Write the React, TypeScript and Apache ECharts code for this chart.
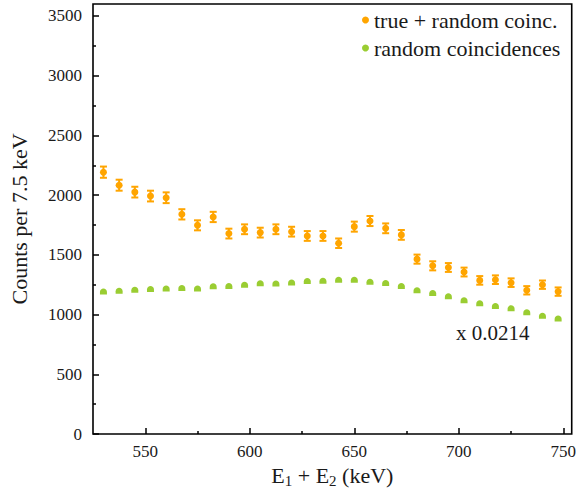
import React, { useEffect, useRef } from 'react';
import * as echarts from 'echarts';

const energies = [
  530, 537.5, 545, 552.5, 560, 567.5, 575, 582.5, 590, 597.5,
  605, 612.5, 620, 627.5, 635, 642.5, 650, 657.5, 665, 672.5,
  680, 687.5, 695, 702.5, 710, 717.5, 725, 732.5, 740, 747.5,
];
const trueRandom = [
  2192, 2083, 2025, 1992, 1978, 1839, 1747, 1817, 1678, 1714,
  1686, 1714, 1694, 1658, 1658, 1597, 1736, 1783, 1722, 1667,
  1464, 1408, 1394, 1356, 1286, 1292, 1267, 1203, 1250, 1192,
];
const trueRandomErr = [
  47, 46, 45, 45, 45, 43, 42, 43, 41, 41,
  41, 41, 41, 41, 41, 40, 42, 42, 41, 41,
  38, 38, 37, 37, 36, 36, 36, 35, 35, 35,
];
const randomCoinc = [
  1194, 1200, 1208, 1214, 1219, 1222, 1219, 1236, 1239, 1250,
  1262, 1261, 1269, 1281, 1283, 1292, 1292, 1275, 1264, 1239,
  1204, 1181, 1153, 1119, 1094, 1072, 1053, 1019, 989, 967,
];
const xTicks = [550, 600, 650, 700, 750];
const xMinorTicks = [575, 625, 675, 725];
const yTicks = [0, 500, 1000, 1500, 2000, 2500, 3000, 3500];
const yMinorTicks = [250, 750, 1250, 1750, 2250, 2750, 3250];

const seriesNames = ['true + random coinc.', 'random coincidences'];
const scaleNote = 'x 0.0214';

const FONT = 'Liberation Serif';
const TEXT = '#1a1a1a';
const ORANGE = '#FFA500';
const GREEN = '#9ACD32';

export default function App() {
  const ref = useRef<HTMLDivElement>(null);
  useEffect(() => {
    const chart = echarts.init(ref.current!, null, { renderer: 'svg' });
    const tickStyle = { color: '#000', width: 1.5 };
    const fmt = (v: number) => String(v);
    const option: any = {
      animation: false,
      backgroundColor: '#fff',
      textStyle: { fontFamily: FONT },
      grid: {
        left: 87, top: 4, width: 487, height: 430,
        show: true, borderColor: '#000', borderWidth: 1.6, backgroundColor: 'transparent',
      },
      legend: {
        orient: 'vertical', left: 362, top: 9, padding: 0,
        itemWidth: 7, itemHeight: 7, itemGap: 6,
        data: seriesNames.map((n) => ({ name: n, icon: 'circle' })),
        textStyle: { fontFamily: FONT, fontSize: 22, color: TEXT, lineHeight: 22 },
      },
      xAxis: [
        {
          type: 'value', min: 525, max: 754, position: 'bottom',
          axisLine: { show: false },
          splitLine: { show: false },
          axisTick: { inside: true, length: 6, lineStyle: tickStyle, customValues: xTicks },
          axisLabel: { customValues: xTicks, formatter: fmt, fontFamily: FONT, fontSize: 17, color: TEXT, margin: 9 },
          name: '{a|E}{b|1}{a| + E}{b|2}{a| (keV)}',
          nameLocation: 'middle', nameGap: 25,
          nameTextStyle: {
            fontFamily: FONT, fontSize: 22, color: TEXT,
            rich: {
              a: { fontFamily: FONT, fontSize: 22, color: TEXT, lineHeight: 26 },
              b: { fontFamily: FONT, fontSize: 15, color: TEXT, lineHeight: 15, verticalAlign: 'bottom' },
            },
          },
        },
        {
          type: 'value', min: 525, max: 754, position: 'bottom',
          axisLine: { show: false }, splitLine: { show: false },
          axisTick: { inside: true, length: 3, lineStyle: tickStyle, customValues: xMinorTicks },
          axisLabel: { show: false },
        },
      ],
      yAxis: [
        {
          type: 'value', min: 0, max: 3600, position: 'left',
          axisLine: { show: false },
          splitLine: { show: false },
          axisTick: { inside: true, length: 6, lineStyle: tickStyle, customValues: yTicks },
          axisLabel: { customValues: yTicks, formatter: fmt, fontFamily: FONT, fontSize: 17, color: TEXT, margin: 11 },
          name: 'Counts per 7.5 keV',
          nameLocation: 'middle', nameGap: 63,
          nameTextStyle: { fontFamily: FONT, fontSize: 22, color: TEXT },
        },
        {
          type: 'value', min: 0, max: 3600, position: 'left',
          axisLine: { show: false }, splitLine: { show: false },
          axisTick: { inside: true, length: 3, lineStyle: tickStyle, customValues: yMinorTicks },
          axisLabel: { show: false },
        },
      ],
      graphic: [
        {
          type: 'text', left: 456, top: 322,
          style: { text: scaleNote, fontFamily: FONT, fontSize: 21, fill: TEXT },
        },
      ],
      series: [
        {
          type: 'custom',
          name: 'errorbars',
          z: 2,
          data: energies.map((x, i) => [x, trueRandom[i], trueRandomErr[i]]),
          encode: { x: 0, y: 1 },
          renderItem: (_params: any, api: any) => {
            const x = api.value(0);
            const y = api.value(1);
            const e = api.value(2);
            const p1 = api.coord([x, y + e]);
            const p2 = api.coord([x, y - e]);
            const hw = 3.5;
            const style = { stroke: ORANGE, lineWidth: 2 };
            return {
              type: 'group',
              children: [
                { type: 'line', shape: { x1: p1[0], y1: p1[1], x2: p2[0], y2: p2[1] }, style },
                { type: 'line', shape: { x1: p1[0] - hw, y1: p1[1], x2: p1[0] + hw, y2: p1[1] }, style },
                { type: 'line', shape: { x1: p2[0] - hw, y1: p2[1], x2: p2[0] + hw, y2: p2[1] }, style },
              ],
            };
          },
        },
        {
          type: 'scatter',
          name: seriesNames[0],
          z: 3,
          symbol: 'circle',
          symbolSize: 7,
          itemStyle: { color: ORANGE, opacity: 1 },
          data: energies.map((x, i) => [x, trueRandom[i]]),
        },
        {
          type: 'scatter',
          name: seriesNames[1],
          z: 3,
          symbol: 'path://M0,10 L0,6 C0,2 2.5,0 5,0 C7.5,0 10,2 10,6 L10,10 Z',
          symbolSize: [7, 6],
          itemStyle: { color: GREEN, opacity: 1 },
          data: energies.map((x, i) => [x, randomCoinc[i]]),
        },
      ],
    };
    chart.setOption(option);
    return () => chart.dispose();
  }, []);
  return (
    <>
      <style>{'#chart-root text { font-family: "Liberation Serif", serif !important; }'}</style>
      <div
        id="chart-root"
        ref={ref}
        style={{ position: 'fixed', left: 0, top: 0, width: 579, height: 495 }}
      />
    </>
  );
}
